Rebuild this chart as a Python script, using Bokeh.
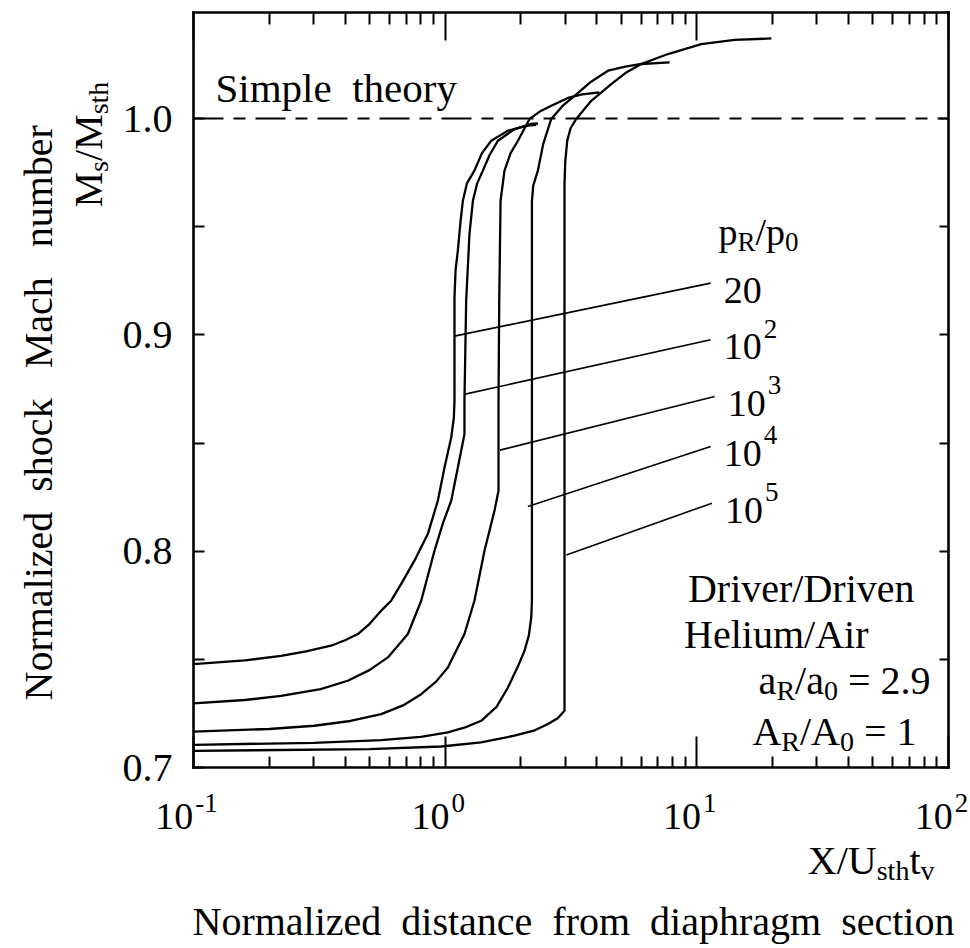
from math import pi
from bokeh.plotting import figure
from bokeh.models import (LogAxis, LinearAxis, FixedTicker, Range1d, Label,
                          CustomJSTickFormatter, NumeralTickFormatter)
from bokeh.embed import file_html
from bokeh.resources import INLINE

# ---------------- data ----------------
X_RANGE = [0.1, 100.0]
Y_RANGE = [0.7, 1.049]

X_MAJOR = [0.1, 1.0, 10.0, 100.0]
X_MINOR = [0.2, 0.3, 0.4, 0.5, 0.6, 0.7, 0.8, 0.9,
           2, 3, 4, 5, 6, 7, 8, 9,
           20, 30, 40, 50, 60, 70, 80, 90]
X_EXPONENTS = ["-1", "0", "1", "2"]
Y_MAJOR = [0.7, 0.8, 0.9, 1.0]
Y_MINOR = [0.75, 0.85, 0.95]

SIMPLE_THEORY = 1.0

# p_R/p_0 = 20
X_20 = [0.1, 0.16, 0.223, 0.28, 0.352, 0.40, 0.45, 0.50, 0.557, 0.61, 0.668, 0.755, 0.853,
        0.935, 0.994, 1.057, 1.083, 1.089, 1.089, 1.10, 1.123, 1.15, 1.176, 1.22, 1.307,
        1.40, 1.524, 1.776, 2.132, 2.30]
Y_20 = [0.7478, 0.7495, 0.7516, 0.7537, 0.7563, 0.7588, 0.7617, 0.7663, 0.7725, 0.7771, 0.7848,
        0.7956, 0.8079, 0.8233, 0.8387, 0.8526, 0.8618, 0.8695, 0.9173, 0.9300, 0.9389, 0.9520,
        0.9620, 0.9700, 0.9759, 0.9840, 0.9897, 0.9944, 0.9967, 0.9971]
# p_R/p_0 = 1e2
X_1E2 = [0.1, 0.16, 0.223, 0.32, 0.410, 0.50, 0.592, 0.711, 0.803, 0.907, 0.98, 1.057, 1.158,
         1.193, 1.193, 1.212, 1.249, 1.289, 1.34, 1.412, 1.50, 1.620, 1.886, 2.198, 2.336]
Y_1E2 = [0.7296, 0.7312, 0.7331, 0.7362, 0.7401, 0.7450, 0.7509, 0.7617, 0.7771, 0.8002,
         0.8130, 0.8233, 0.8464, 0.8541, 0.8695, 0.9158, 0.9466, 0.9620, 0.9700, 0.9759,
         0.9830, 0.9897, 0.9951, 0.9975, 0.9977]
# p_R/p_0 = 1e3
X_1E3 = [0.1, 0.20, 0.302, 0.42, 0.557, 0.68, 0.803, 0.92, 1.025, 1.193, 1.307, 1.433, 1.570,
         1.629, 1.629, 1.640, 1.660, 1.721, 1.82, 1.946, 2.164, 2.40, 2.639, 3.075, 3.5, 4.10]
Y_1E3 = [0.7166, 0.7178, 0.7193, 0.7215, 0.7247, 0.7287, 0.7339, 0.7397, 0.7462, 0.7617,
         0.7771, 0.8002, 0.8187, 0.8279, 0.8695, 0.9158, 0.9620, 0.9759, 0.9840, 0.9897,
         0.9998, 1.0035, 1.0059, 1.0095, 1.0112, 1.0121]
# p_R/p_0 = 1e4
X_1E4 = [0.1, 0.3, 0.557, 0.80, 1.025, 1.20, 1.390, 1.60, 1.776, 1.95, 2.067, 2.15, 2.198,
         2.212, 2.212, 2.238, 2.336, 2.45, 2.639, 2.95, 3.267, 3.8, 4.437, 5.2, 6.016, 7.797]
Y_1E4 = [0.7105, 0.7114, 0.7127, 0.7142, 0.7162, 0.7185, 0.7216, 0.7280, 0.7370, 0.7470,
         0.7540, 0.7610, 0.7693, 0.7771, 0.9620, 0.9689, 0.9759, 0.9880, 0.9998, 1.0062,
         1.0105, 1.0170, 1.0221, 1.0240, 1.0252, 1.0259]
# p_R/p_0 = 1e5
X_1E5 = [0.1, 0.5, 0.964, 1.390, 1.886, 2.250, 2.560, 2.80, 2.98, 2.98, 3.0, 3.055, 3.15,
         3.318, 3.806, 4.571, 5.2, 6.016, 7.68, 10.42, 14.13, 19.78]
Y_1E5 = [0.7077, 0.7085, 0.7097, 0.7116, 0.7147, 0.7170, 0.7201, 0.7228, 0.7262, 0.9700,
         0.9800, 0.9897, 0.9955, 0.9998, 1.0082, 1.0159, 1.0210, 1.0252, 1.0298, 1.0344,
         1.0363, 1.0370]

CURVES_X = [X_20, X_1E2, X_1E3, X_1E4, X_1E5]
CURVES_Y = [Y_20, Y_1E2, Y_1E3, Y_1E4, Y_1E5]

# leader lines from each curve to its label
LEAD_X0 = [1.089, 1.201, 1.650, 2.132, 3.03]
LEAD_Y0 = [0.8994, 0.8726, 0.8467, 0.8207, 0.7982]
LEAD_X1 = [11.35, 11.35, 11.77, 11.35, 11.49]
LEAD_Y1 = [0.9239, 0.8977, 0.8715, 0.8484, 0.8222]
LEAD_BASE = ["20", "10", "10", "10", "10"]
LEAD_EXP = ["", "2", "3", "4", "5"]

# ---------------- layout ----------------
FONT = "Liberation Serif"
W, H = 970, 948
FL, FR, FT, FB = 193, 948, 12, 767          # visible box in canvas pixels
NB = "\u00a0"

DEC = (FR - FL) / 3.0                       # pixels per decade
YPX = (FB - FT) / (Y_RANGE[1] - Y_RANGE[0])  # pixels per unit of y
canvas_x = Range1d(10 ** (-1 - FL / DEC), 10 ** (2 + (W - FR) / DEC))
canvas_y = Range1d(Y_RANGE[0] - (H - FB) / YPX, Y_RANGE[1] + FT / YPX)

# Times-like advance widths (per 1000 em) used to place sub/superscripts
WID = {" ": 250, NB: 250, "/": 278, "=": 564, ".": 250, "-": 333,
       "A": 722, "D": 722, "H": 722, "M": 889, "N": 722, "R": 667, "S": 556,
       "U": 722, "X": 722, "a": 444, "b": 500, "c": 444, "d": 500, "e": 444,
       "f": 333, "g": 500, "h": 500, "i": 278, "k": 500, "l": 278, "m": 778,
       "n": 500, "o": 500, "p": 500, "r": 333, "s": 389, "t": 278, "u": 500,
       "v": 500, "y": 500, "z": 444}


def tw(s, size):
    return sum(WID.get(c, 500) for c in s) * size / 1000.0


p = figure(width=W, height=H, x_axis_type="log",
           x_range=canvas_x, y_range=canvas_y,
           x_axis_location=None, y_axis_location=None,
           output_backend="svg", toolbar_location=None,
           min_border=0, min_border_left=0, min_border_right=0,
           min_border_top=0, min_border_bottom=0)
p.background_fill_color = "white"
p.border_fill_color = "white"
p.outline_line_color = None
for g in p.grid:
    g.visible = False

blank = CustomJSTickFormatter(code="return ''")


def style_axis(ax, major_in, minor_in):
    ax.axis_line_color = "black"
    ax.axis_line_width = 2.6
    ax.axis_line_cap = "square"
    ax.major_tick_in = major_in
    ax.major_tick_out = 0
    ax.minor_tick_in = minor_in
    ax.minor_tick_out = 0
    ax.major_tick_line_width = 2
    ax.minor_tick_line_width = 2
    ax.major_tick_line_color = "black"
    ax.minor_tick_line_color = "black"


xb = LogAxis(ticker=FixedTicker(ticks=X_MAJOR, minor_ticks=X_MINOR), formatter=blank,
             fixed_location=Y_RANGE[0], bounds=(X_RANGE[0], X_RANGE[1]))
xb.major_label_standoff = 0
style_axis(xb, 31, 11)
p.add_layout(xb, "below")

xt = LogAxis(ticker=FixedTicker(ticks=X_MAJOR, minor_ticks=X_MINOR), formatter=blank,
             fixed_location=Y_RANGE[1], bounds=(X_RANGE[0], X_RANGE[1]))
xt.major_label_standoff = 0
style_axis(xt, 28, 12)
p.add_layout(xt, "above")

yl = LinearAxis(ticker=FixedTicker(ticks=Y_MAJOR, minor_ticks=Y_MINOR),
                formatter=NumeralTickFormatter(format="0.0"),
                fixed_location=X_RANGE[0], bounds=(Y_RANGE[0], Y_RANGE[1]))
yl.major_label_text_font = FONT
yl.major_label_text_font_size = "40px"
yl.major_label_text_color = "black"
yl.major_label_standoff = 21
style_axis(yl, 11, 11)
p.add_layout(yl, "left")

yr = LinearAxis(ticker=FixedTicker(ticks=Y_MAJOR, minor_ticks=Y_MINOR), formatter=blank,
                fixed_location=X_RANGE[1], bounds=(Y_RANGE[0], Y_RANGE[1]))
yr.major_label_standoff = 0
style_axis(yr, 9, 9)
p.add_layout(yr, "right")

# simple theory dash-dot line
p.line(x=[X_RANGE[0], X_RANGE[1]], y=[SIMPLE_THEORY, SIMPLE_THEORY], line_color="black",
       line_width=2.2, line_dash="30 10 12 10")

# curves
for xs, ys in zip(CURVES_X, CURVES_Y):
    p.line(xs, ys, line_color="black", line_width=2.3, line_join="round")

# leader lines
p.segment(x0=LEAD_X0, y0=LEAD_Y0, x1=LEAD_X1, y1=LEAD_Y1,
          line_color="black", line_width=1.6)


# ---------------- text ----------------
def put(text, xd, yd, dx, ddown, size, angle=0.0, align="left"):
    p.add_layout(Label(x=xd, y=yd, x_units="data", y_units="data",
                       x_offset=dx, y_offset=-ddown, text=text,
                       text_font=FONT, text_font_size=f"{size}px",
                       text_color="black", text_align=align,
                       text_baseline="middle", angle=angle))


def put_px(text, px, py, size, angle=0.0, align="left"):
    put(text, X_RANGE[0], Y_RANGE[0], px - FL, py - FB, size, angle, align)


def width_of(parts):
    return sum(tw(t, s) + extra for t, s, _, extra in parts)


def compose(parts, px, py, angle=0.0):
    pos = 0.0
    for text, size, shift, extra in parts:
        if angle == 0.0:
            put_px(text, px + pos, py + shift, size)
        else:
            put_px(text, px + shift, py - pos, size, angle=angle)
        pos += tw(text, size) + extra


BIG, SMALL, SUB = 40, 28, 10

# bottom tick labels 10^k
for tick, ex in zip(X_MAJOR, X_EXPONENTS):
    wbase = tw("10", 38)
    wexp = tw(ex, 27)
    left = -7 - (wbase + 2 + wexp) / 2.0
    put("10", tick, Y_RANGE[0], left, 48.5, 38)
    put(ex, tick, Y_RANGE[0], left + wbase + 2, 35, 27)

# leader labels
for x1, y1, base, ex in zip(LEAD_X1, LEAD_Y1, LEAD_BASE, LEAD_EXP):
    put(base, x1, y1, 13, 7, 38)
    if ex:
        put(ex, x1, y1, 13 + tw(base, 38) + 2, -11, 27)

compose([("p", 38, 0, 0), ("R", 27, SUB, 0), ("/p", 38, 0, 0), ("0", 27, SUB, 0)], 718, 231)

put_px("Simple" + NB * 2 + "theory", 215, 87, 41)

put_px("Driver/Driven", 914, 588, BIG, align="right")
put_px("Helium/Air", 868, 634, BIG, align="right")
parts_a = [("a", BIG, 0, 0), ("R", SMALL, SUB, 0), ("/a", BIG, 0, 0), ("0", SMALL, SUB, 10),
           ("=", BIG, 0, 10), ("2.9", BIG, 0, 0)]
compose(parts_a, 930 - width_of(parts_a), 680)
parts_A = [("A", BIG, 0, 0), ("R", SMALL, SUB, 0), ("/A", BIG, 0, 0), ("0", SMALL, SUB, 10),
           ("=", BIG, 0, 10), ("1", BIG, 0, 0)]
compose(parts_A, 916 - width_of(parts_A), 731)

# axis titles
parts_x = [("X/U", BIG, 0, 0), ("sth", SMALL, SUB, 0), ("t", BIG, 0, 0), ("v", SMALL, SUB, 0)]
compose(parts_x, 934 - width_of(parts_x), 860)
put_px(("Normalized" + NB * 2 + "distance" + NB * 2 + "from" + NB * 2 +
        "diaphragm" + NB * 2 + "section"), 192, 921, BIG)

compose([("M", BIG, 0, 0), ("s", SMALL, SUB, 0), ("/M", BIG, 0, 0), ("sth", SMALL, SUB, 0)],
        88, 207, angle=pi / 2)
put_px("Normalized" + NB * 2 + "shock" + NB * 3 + "Mach" + NB * 3 + "number",
       38, 700, BIG, angle=pi / 2)

open("out.html", "w").write(file_html(p, INLINE))
